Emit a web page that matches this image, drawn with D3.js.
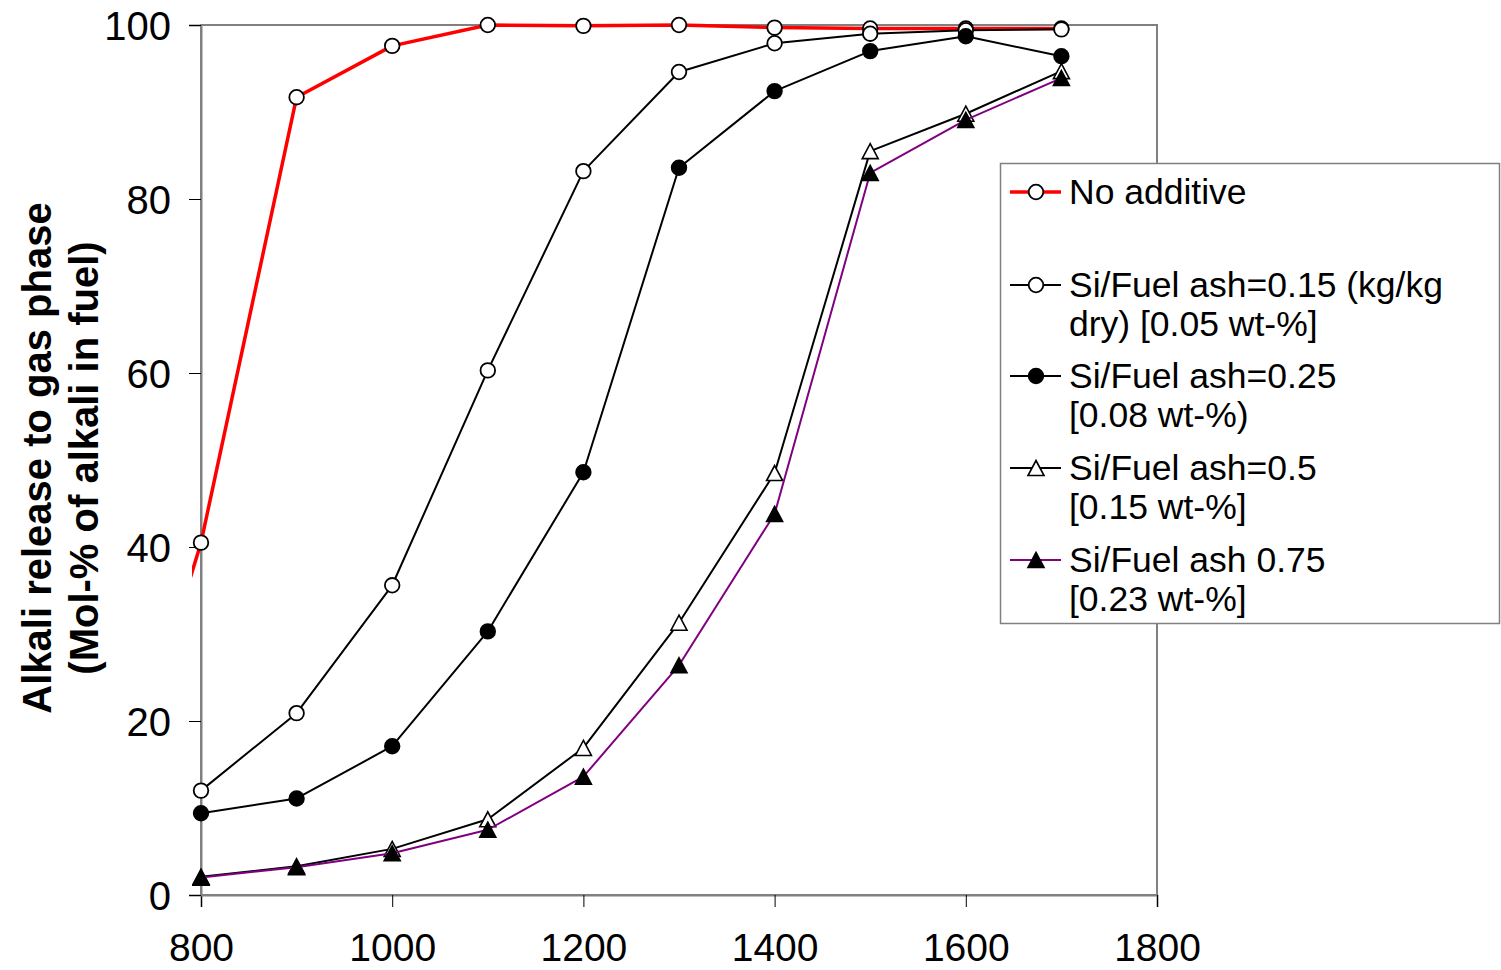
<!DOCTYPE html>
<html>
<head>
<meta charset="utf-8">
<script src="https://cdn.jsdelivr.net/npm/d3@7"></script>
<style>
  html, body { margin: 0; padding: 0; background: #fff; }
  svg text { font-family: "Liberation Sans", Arial, sans-serif; }
</style>
</head>
<body>
<svg id="chart" width="1501" height="970"></svg>
<script>
// Temperatures (°C)
const temperatures = [800, 900, 1000, 1100, 1200, 1300, 1400, 1500, 1600, 1700];
// The no-additive run also has a point below the axis range at 700 °C
const noAdditiveTemps = [700, 800, 900, 1000, 1100, 1200, 1300, 1400, 1500, 1600, 1700];
const noAdditive = [4.5, 40.5, 91.7, 97.6, 100, 99.9, 100, 99.7, 99.6, 99.6, 99.6];
const si015 = [12.0, 20.9, 35.6, 60.3, 83.2, 94.6, 97.9, 99.0, 99.4, 99.5];
const si025 = [9.4, 11.1, 17.1, 30.3, 48.6, 83.6, 92.4, 97.0, 98.7, 96.4];
const si050 = [2.1, 3.3, 5.3, 8.7, 16.9, 31.3, 48.5, 85.5, 89.8, 94.7];
const si075 = [2.0, 3.2, 4.8, 7.5, 13.6, 26.4, 43.8, 83.0, 89.1, 93.9];

const xTicks = [800, 1000, 1200, 1400, 1600, 1800];
const yTicks = [0, 20, 40, 60, 80, 100];

const seriesNames = [
  ["No additive"],
  ["Si/Fuel ash=0.15 (kg/kg", "dry) [0.05 wt-%]"],
  ["Si/Fuel ash=0.25", "[0.08 wt-%)"],
  ["Si/Fuel ash=0.5", "[0.15 wt-%]"],
  ["Si/Fuel ash 0.75", "[0.23 wt-%]"]
];

const series = [
  { name: seriesNames[0], xs: noAdditiveTemps, ys: noAdditive, color: "#ff0000", width: 3.5, marker: "circle", fill: "#fff" },
  { name: seriesNames[1], xs: temperatures, ys: si015, color: "#000", width: 2, marker: "circle", fill: "#fff" },
  { name: seriesNames[2], xs: temperatures, ys: si025, color: "#000", width: 2, marker: "circle", fill: "#000" },
  { name: seriesNames[3], xs: temperatures, ys: si050, color: "#000", width: 2, marker: "triangle", fill: "#fff" },
  { name: seriesNames[4], xs: temperatures, ys: si075, color: "#800080", width: 2, marker: "triangle", fill: "#000" }
];

const svg = d3.select("#chart");
const plot = { left: 201, right: 1157, top: 25, bottom: 895 };

const x = d3.scaleLinear().domain([800, 1800]).range([plot.left, plot.right]);
const y = d3.scaleLinear().domain([0, 100]).range([plot.bottom, plot.top]);

// Plot frame
svg.append("rect")
  .attr("x", plot.left).attr("y", plot.top)
  .attr("width", plot.right - plot.left).attr("height", plot.bottom - plot.top)
  .attr("fill", "none").attr("stroke", "#808080").attr("stroke-width", 2);

// Axes
const xAxis = svg.append("g")
  .attr("transform", `translate(0,${plot.bottom})`)
  .call(d3.axisBottom(x).tickValues(xTicks).tickSize(12).tickPadding(26).tickFormat(d3.format("d")));
const yAxis = svg.append("g")
  .attr("transform", `translate(${plot.left},0)`)
  .call(d3.axisLeft(y).tickValues(yTicks).tickSize(12).tickPadding(18).tickFormat(d3.format("d")));

[xAxis, yAxis].forEach(g => {
  g.select(".domain").attr("stroke", "#808080").attr("stroke-width", 2);
  g.selectAll(".tick line").attr("stroke", "#000").attr("stroke-width", 1);
  g.selectAll(".tick text").attr("fill", "#000")
    .style("font-size", "39px")
    .style("font-family", "'Liberation Sans', Arial, sans-serif");
});
yAxis.selectAll(".tick text").style("font-size", "40px").attr("dy", "0.36em");

// Y axis title
const yTitle = svg.append("text")
  .attr("transform", "translate(0,458) rotate(-90)")
  .attr("text-anchor", "middle")
  .style("font-weight", "bold")
  .style("font-size", "40px");
yTitle.append("tspan").attr("x", 0).attr("y", 51).text("Alkali release to gas phase");
yTitle.append("tspan").attr("x", 0).attr("y", 98).text("(Mol-% of alkali in fuel)");

// Clip region for data (allows slight overhang on the left)
svg.append("clipPath").attr("id", "plotClip")
  .append("rect")
  .attr("x", plot.left - 9).attr("y", 0)
  .attr("width", plot.right - plot.left + 9 + 20).attr("height", plot.bottom + 20);

const dataLayer = svg.append("g").attr("clip-path", "url(#plotClip)");

const line = d3.line().x(d => x(d[0])).y(d => y(d[1]));

function drawMarker(g, s, cx, cy) {
  if (s.marker === "circle") {
    g.append("circle").attr("cx", cx).attr("cy", cy).attr("r", 7.3)
      .attr("fill", s.fill).attr("stroke", "#000").attr("stroke-width", 1.8);
  } else {
    // triangle centred on its bounding box
    const h = 15, w = 16;
    g.append("path")
      .attr("d", `M${cx},${cy - h / 2}L${cx + w / 2},${cy + h / 2}L${cx - w / 2},${cy + h / 2}Z`)
      .attr("fill", s.fill).attr("stroke", "#000").attr("stroke-width", 1.6)
      .attr("stroke-linejoin", "miter");
  }
}

series.forEach(s => {
  const pts = s.xs.map((t, i) => [t, s.ys[i]]);
  const g = dataLayer.append("g");
  g.append("path").datum(pts)
    .attr("d", line)
    .attr("fill", "none")
    .attr("stroke", s.color)
    .attr("stroke-width", s.width)
    .attr("stroke-linejoin", "round");
  pts.forEach(p => drawMarker(g, s, x(p[0]), y(p[1])));
});

// Legend
const legend = svg.append("g");
legend.append("rect")
  .attr("x", 1000.5).attr("y", 163.5).attr("width", 499).attr("height", 460)
  .attr("fill", "#fff").attr("stroke", "#808080").attr("stroke-width", 1.5);

const rowY = [192, 285, 376, 468, 560];
series.forEach((s, i) => {
  const cy = rowY[i];
  legend.append("line")
    .attr("x1", 1010).attr("x2", 1061).attr("y1", cy).attr("y2", cy)
    .attr("stroke", s.color).attr("stroke-width", s.width);
  drawMarker(legend, s, 1036, cy);
  const t = legend.append("text")
    .attr("x", 1069).attr("y", cy)
    .style("font-size", "35.5px")
    .attr("fill", "#000");
  s.name.forEach((ln, j) => {
    t.append("tspan").attr("x", 1069).attr("y", cy + j * 39).attr("dy", "0.35em").text(ln);
  });
});
</script>
</body>
</html>
